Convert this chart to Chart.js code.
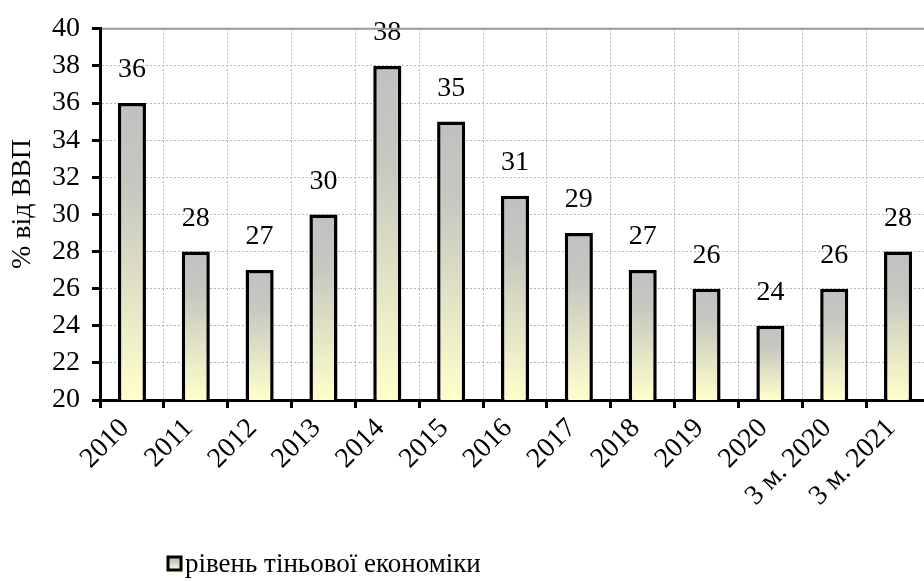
<!DOCTYPE html>
<html>
<head>
<meta charset="utf-8">
<script src="https://cdn.jsdelivr.net/npm/chart.js@4/dist/chart.umd.min.js"></script>
<style>
  html, body { margin: 0; padding: 0; background: #fff; overflow: hidden; }
  #wrap { width: 940px; height: 581px; }
</style>
</head>
<body>
<div id="wrap"><canvas id="c" width="940" height="581"></canvas></div>
<script>
// дані: рівень тіньової економіки, % від ВВП
const labels = ['2010', '2011', '2012', '2013', '2014', '2015', '2016', '2017', '2018', '2019', '2020', '3 м. 2020', '3 м. 2021'];
const values = [36, 28, 27, 30, 38, 35, 31, 29, 27, 26, 24, 26, 28];
const seriesName = 'рівень тіньової економіки';
const yTitle = '% від ВВП';
const yMin = 20, yMax = 40, yStep = 2;

const FONT = "'Liberation Serif', 'Times New Roman', serif";

function barGradient(ctx, top, bottom) {
  const g = ctx.createLinearGradient(0, top, 0, bottom);
  g.addColorStop(0, '#c0c0c0');
  g.addColorStop(0.3, '#c8c8c0');
  g.addColorStop(1, '#ffffcc');
  return g;
}

// підписи значень, назва осі Y, легенда, верхня лінія
const extras = {
  id: 'extras',
  afterDatasetsDraw(chart) {
    const ctx = chart.ctx;
    const meta = chart.getDatasetMeta(0);
    ctx.save();
    ctx.font = '28px ' + FONT;
    ctx.fillStyle = '#000';
    ctx.textAlign = 'center';
    ctx.textBaseline = 'middle';
    meta.data.forEach((bar, i) => {
      ctx.fillText(String(values[i]), bar.x, bar.y - 33);
    });
    ctx.restore();
  },
  afterDraw(chart) {
    const ctx = chart.ctx, ca = chart.chartArea;
    ctx.save();
    // верхня межа (40) суцільна сіра
    ctx.strokeStyle = '#9a9a9a';
    ctx.lineWidth = 2;
    ctx.beginPath();
    ctx.moveTo(ca.left + 2, ca.top);
    ctx.lineTo(ca.right, ca.top);
    ctx.stroke();
    // назва осі Y
    ctx.fillStyle = '#000';
    ctx.font = '28px ' + FONT;
    ctx.textAlign = 'center';
    ctx.textBaseline = 'middle';
    ctx.translate(23, 204);
    ctx.rotate(-Math.PI / 2);
    ctx.fillText(yTitle, 0, 0);
    ctx.setTransform(1, 0, 0, 1, 0, 0);
    // легенда
    const lx = 168, ly = 557, ls = 13;
    ctx.fillStyle = barGradient(ctx, ly, ly + ls);
    ctx.fillRect(lx, ly, ls, ls);
    ctx.strokeStyle = '#000';
    ctx.lineWidth = 3;
    ctx.strokeRect(lx, ly, ls, ls);
    ctx.fillStyle = '#000';
    ctx.font = '27px ' + FONT;
    ctx.textAlign = 'left';
    ctx.textBaseline = 'middle';
    ctx.fillText(seriesName, 185, 565);
    ctx.restore();
  }
};

new Chart(document.getElementById('c').getContext('2d'), {
  type: 'bar',
  data: {
    labels,
    datasets: [{
      label: seriesName,
      data: values,
      backgroundColor: (c) => {
        const chart = c.chart;
        if (!chart.chartArea || c.dataIndex === undefined) return '#ddd';
        const y = chart.scales.y;
        return barGradient(chart.ctx, y.getPixelForValue(values[c.dataIndex]), y.getPixelForValue(yMin));
      },
      borderColor: '#000',
      borderWidth: 3.5,
      barPercentage: 0.44,
      categoryPercentage: 1
    }]
  },
  plugins: [extras],
  options: {
    responsive: false,
    animation: false,
    devicePixelRatio: 1,
    layout: { padding: { top: 27, right: 10, bottom: 0, left: 0 } },
    plugins: {
      legend: { display: false },
      tooltip: { enabled: false }
    },
    scales: {
      x: {
        afterFit: (s) => { s.height = 181; },
        grid: {
          color: '#b8b8b8',
          lineWidth: 1,
          tickColor: '#000',
          tickWidth: 3,
          tickLength: 8,
          tickBorderDash: []
        },
        border: { color: '#000', width: 3, dash: [2, 2] },
        ticks: {
          color: '#000',
          font: { family: FONT, size: 28 },
          maxRotation: 45,
          minRotation: 45,
          padding: 4,
          labelOffset: -7,
          autoSkip: false
        }
      },
      y: {
        min: yMin,
        max: yMax,
        afterFit: (s) => { s.width = 100; },
        grid: {
          color: '#b8b8b8',
          lineWidth: 1,
          tickColor: '#000',
          tickWidth: 3,
          tickLength: 8,
          tickBorderDash: []
        },
        border: { color: '#000', width: 3, dash: [2, 2] },
        ticks: {
          stepSize: yStep,
          color: '#000',
          font: { family: FONT, size: 28 },
          padding: 12
        }
      }
    }
  }
});
</script>
</body>
</html>
